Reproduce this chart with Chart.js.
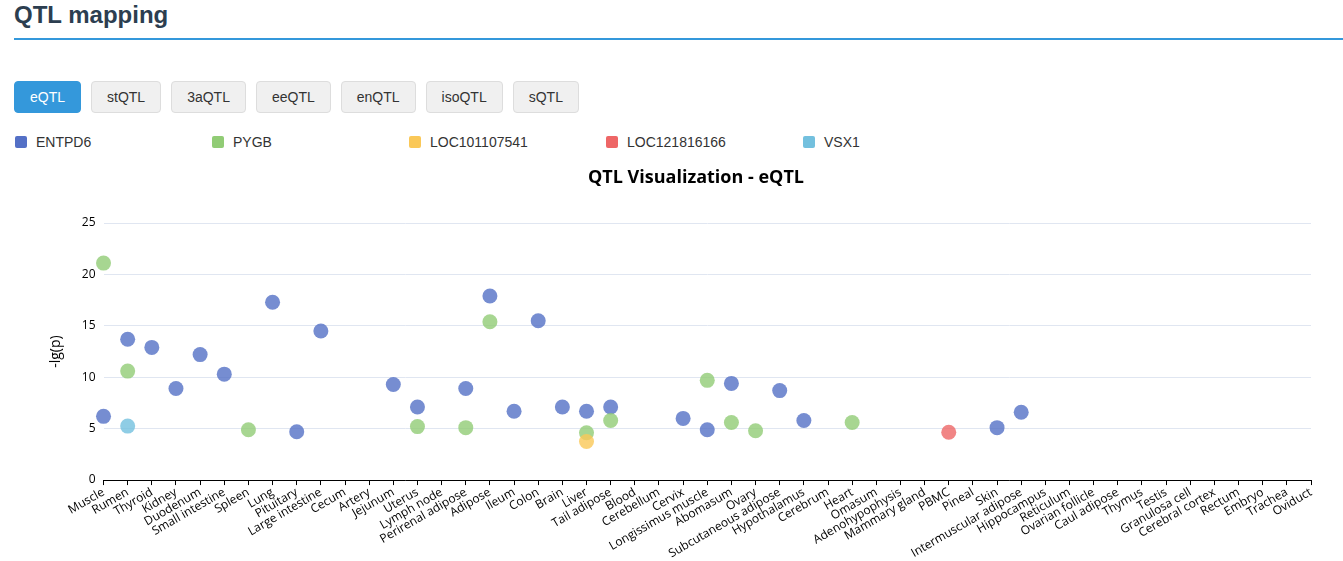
<!DOCTYPE html>
<html>
<head>
<meta charset="utf-8">
<script src="https://cdn.jsdelivr.net/npm/chart.js@4.4.1/dist/chart.umd.min.js"></script>
<style>
  body { margin: 0; background: #fff; font-family: "Liberation Sans", Arial, sans-serif; overflow: hidden; }
  .page-title { position: absolute; left: 14px; top: 1px; margin: 0; font-size: 24px; font-weight: bold; color: #2c3e50; }
  .title-line { position: absolute; left: 14px; top: 38px; width: 1340px; height: 2px; background: #3498db; }
  .tabs { position: absolute; left: 14px; top: 81px; display: flex; gap: 10px; }
  .tabs button { height: 32px; padding: 0 15px; font-size: 14px; font-family: inherit; color: #333;
    background: #f0f0f0; border: 1px solid #ddd; border-radius: 4px; }
  .tabs button.active { background: #3498db; color: #fff; border-color: #3498db; }
  .legend { position: absolute; left: 15px; top: 134px; display: flex; }
  .legend div { width: 197px; display: flex; align-items: center; font-size: 14px; color: #333; }
  .legend span { display: inline-block; width: 12px; height: 12px; border-radius: 2px; margin-right: 9px; }
  .chart-title { position: absolute; left: 696px; top: 164px; transform: translateX(-50%); white-space: nowrap;
    font-family: "Open Sans", sans-serif; font-size: 18px; font-weight: bold; color: #000; line-height: 24px; }
  .chart-box { position: absolute; left: 0; top: 155px; width: 1343px; height: 406px; }
</style>
</head>
<body>
<h2 class="page-title">QTL mapping</h2>
<div class="title-line"></div>
<div class="tabs">
  <button class="active">eQTL</button>
  <button>stQTL</button>
  <button>3aQTL</button>
  <button>eeQTL</button>
  <button>enQTL</button>
  <button>isoQTL</button>
  <button>sQTL</button>
</div>
<div class="legend" id="legend"></div>
<div class="chart-box"><canvas id="qtlChart"></canvas></div>
<div class="chart-title">QTL Visualization - eQTL</div>

<script>
// tissues on the x axis
const categories = ['Muscle', 'Rumen', 'Thyroid', 'Kidney', 'Duodenum', 'Small intestine', 'Spleen', 'Lung',
  'Pituitary', 'Large intestine', 'Cecum', 'Artery', 'Jejunum', 'Uterus', 'Lymph node', 'Perirenal adipose',
  'Adipose', 'Ileum', 'Colon', 'Brain', 'Liver', 'Tail adipose', 'Blood', 'Cerebellum', 'Cervix',
  'Longissimus muscle', 'Abomasum', 'Ovary', 'Subcutaneous adipose', 'Hypothalamus', 'Cerebrum', 'Heart',
  'Omasum', 'Adenohypophysis', 'Mammary gland', 'PBMC', 'Pineal', 'Skin', 'Intermuscular adipose',
  'Hippocampus', 'Reticulum', 'Ovarian follicle', 'Caul adipose', 'Thymus', 'Testis', 'Granulosa cell',
  'Cerebral cortex', 'Rectum', 'Embryo', 'Trachea', 'Oviduct'];

const geneNames = ['ENTPD6', 'PYGB', 'LOC101107541', 'LOC121816166', 'VSX1'];
const geneColors = ['#5470c6', '#91cc75', '#fac858', '#ee6666', '#73c0de'];

// -lg(p) per tissue
const entpd6 = [
  { x: 'Muscle', y: 6.2 }, { x: 'Rumen', y: 13.7 }, { x: 'Thyroid', y: 12.9 }, { x: 'Kidney', y: 8.9 },
  { x: 'Duodenum', y: 12.2 }, { x: 'Small intestine', y: 10.3 }, { x: 'Lung', y: 17.3 },
  { x: 'Pituitary', y: 4.7 }, { x: 'Large intestine', y: 14.5 }, { x: 'Jejunum', y: 9.3 },
  { x: 'Uterus', y: 7.1 }, { x: 'Perirenal adipose', y: 8.9 }, { x: 'Adipose', y: 17.9 },
  { x: 'Ileum', y: 6.7 }, { x: 'Colon', y: 15.5 }, { x: 'Brain', y: 7.1 }, { x: 'Liver', y: 6.7 },
  { x: 'Tail adipose', y: 7.1 }, { x: 'Cervix', y: 6.0 }, { x: 'Longissimus muscle', y: 4.9 },
  { x: 'Abomasum', y: 9.4 }, { x: 'Subcutaneous adipose', y: 8.7 }, { x: 'Hypothalamus', y: 5.8 },
  { x: 'Skin', y: 5.1 }, { x: 'Intermuscular adipose', y: 6.6 }
];
const pygb = [
  { x: 'Muscle', y: 21.1 }, { x: 'Rumen', y: 10.6 }, { x: 'Spleen', y: 4.9 }, { x: 'Uterus', y: 5.2 },
  { x: 'Perirenal adipose', y: 5.1 }, { x: 'Adipose', y: 15.4 }, { x: 'Liver', y: 4.6 },
  { x: 'Tail adipose', y: 5.8 }, { x: 'Longissimus muscle', y: 9.7 }, { x: 'Abomasum', y: 5.6 },
  { x: 'Ovary', y: 4.8 }, { x: 'Heart', y: 5.6 }
];
const loc101107541 = [{ x: 'Liver', y: 3.75 }];
const loc121816166 = [{ x: 'PBMC', y: 4.65 }];
const vsx1 = [{ x: 'Rumen', y: 5.25 }];

const yTicks = [0, 5, 10, 15, 20, 25];

const seriesData = [entpd6, pygb, loc101107541, loc121816166, vsx1];

// html legend
const legendEl = document.getElementById('legend');
geneNames.forEach(function (name, i) {
  const item = document.createElement('div');
  item.innerHTML = '<span style="background:' + geneColors[i] + '"></span>' + name;
  legendEl.appendChild(item);
});

function withAlpha(hex, a) {
  const n = parseInt(hex.slice(1), 16);
  return 'rgba(' + (n >> 16) + ',' + ((n >> 8) & 255) + ',' + (n & 255) + ',' + a + ')';
}

const ctx = document.getElementById('qtlChart').getContext('2d');
new Chart(ctx, {
  type: 'line',
  data: {
    labels: categories,
    datasets: seriesData.map(function (d, i) {
      return {
        label: geneNames[i],
        data: d,
        showLine: false,
        pointRadius: 7.5,
        pointHoverRadius: 8,
        pointBorderWidth: 0,
        pointBackgroundColor: withAlpha(geneColors[i], 0.8),
        borderColor: withAlpha(geneColors[i], 0.8),
        order: 10 - i
      };
    })
  },
  options: {
    responsive: true,
    maintainAspectRatio: false,
    animation: false,
    layout: { padding: { top: 68, right: 32, bottom: 0, left: 40 } },
    plugins: {
      legend: { display: false },
      tooltip: { enabled: false },
      title: { display: false }
    },
    scales: {
      x: {
        type: 'category',
        offset: false,
        grid: { display: true, drawOnChartArea: false, color: '#000', tickLength: 5 },
        border: { display: true, color: '#000', width: 1 },
        ticks: {
          autoSkip: false,
          maxRotation: 30,
          minRotation: 30,
          padding: 0,
          color: '#000',
          font: { family: "'Open Sans', sans-serif", size: 12 }
        }
      },
      y: {
        min: 0,
        max: 25,
        afterBuildTicks: function (axis) {
          axis.ticks = yTicks.map(function (v) { return { value: v }; });
        },
        grid: { color: '#e0e6f1', drawTicks: false },
        border: { display: false },
        ticks: {
          padding: 8,
          color: '#000',
          font: { family: "'Open Sans', sans-serif", size: 12 }
        },
        title: {
          display: true,
          text: '-lg(p)',
          color: '#000',
          font: { family: "'Open Sans', sans-serif", size: 14 },
          padding: { top: 8, bottom: 9 }
        }
      }
    }
  }
});
</script>
</body>
</html>
